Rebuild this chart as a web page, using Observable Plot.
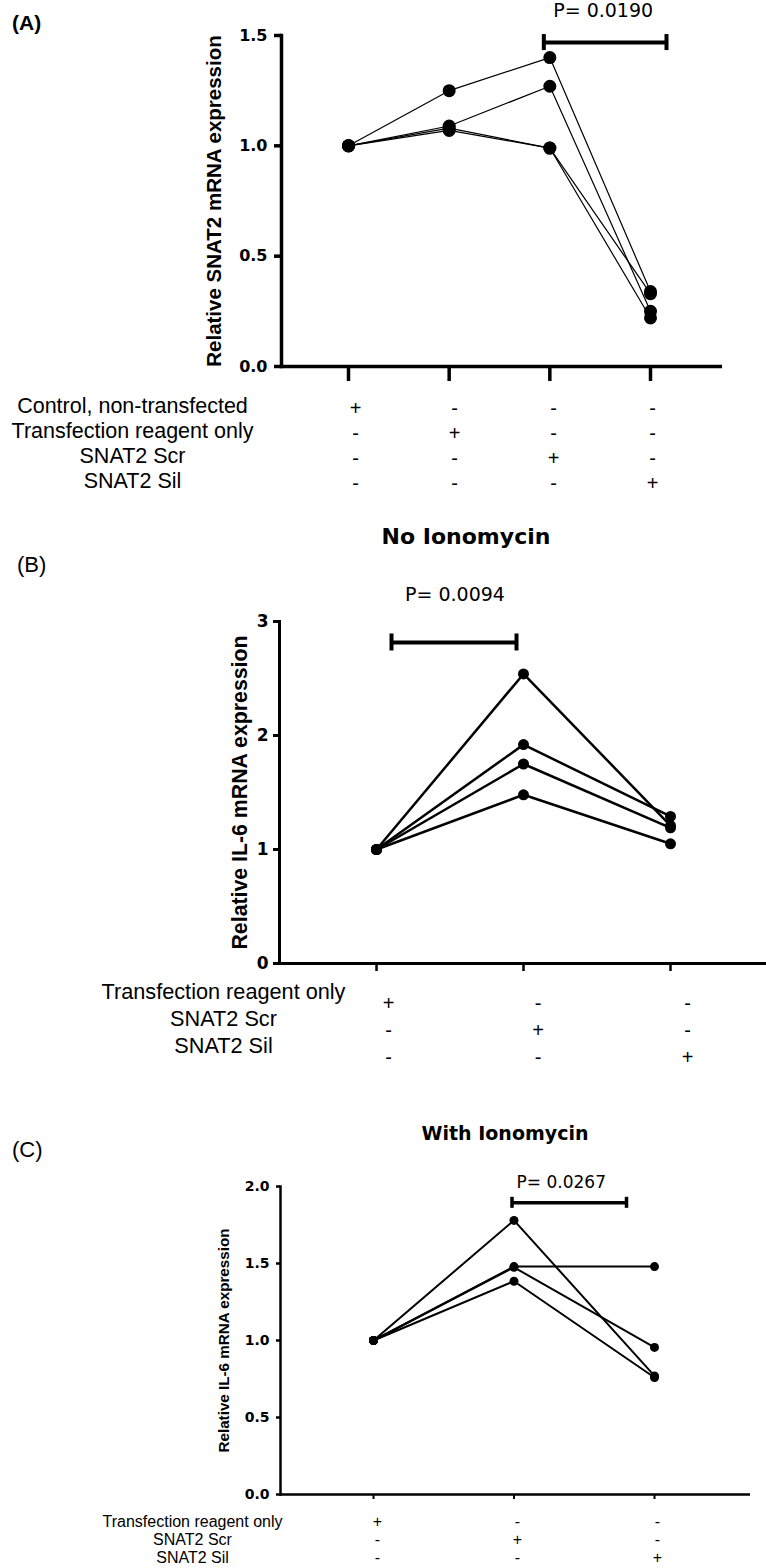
<!DOCTYPE html>
<html>
<head>
<meta charset="utf-8">
<script src="https://cdn.jsdelivr.net/npm/d3@7"></script>
<script src="https://cdn.jsdelivr.net/npm/@observablehq/plot@0.6"></script>
<style>
  html, body { margin: 0; padding: 0; background: #fff; }
  #root { position: relative; width: 766px; height: 1568px; background: #fff; overflow: hidden; color: #000; }
  .abs { position: absolute; line-height: 1; white-space: nowrap; color: #000; z-index: 5; }
  .ctr { transform: translate(-50%, -50%); }
  .vmid { transform: translate(0, -50%); }
</style>
</head>
<body>
<div id="root"></div>
<script>
// ---------------- DATA ----------------
// Panel A : Relative SNAT2 mRNA expression
const groupsA = ["Control, non-transfected", "Transfection reagent only", "SNAT2 Scr", "SNAT2 Sil"];
const seriesA = [
  [1.00, 1.25, 1.40, 0.34],
  [1.00, 1.09, 1.27, 0.25],
  [1.00, 1.08, 0.99, 0.33],
  [1.00, 1.07, 0.99, 0.22]
];
const yTicksA = [0, 0.5, 1.0, 1.5];
const signsA = [
  ["+", "-", "-", "-"],
  ["-", "+", "-", "-"],
  ["-", "-", "+", "-"],
  ["-", "-", "-", "+"]
];
const pValueA = "P= 0.0190";

// Panel B : No Ionomycin, Relative IL-6 mRNA expression
const groupsB = ["Transfection reagent only", "SNAT2 Scr", "SNAT2 Sil"];
const seriesB = [
  [1.00, 2.54, 1.21],
  [1.00, 1.92, 1.29],
  [1.00, 1.75, 1.19],
  [1.00, 1.48, 1.05]
];
const yTicksB = [0, 1, 2, 3];
const signsB = [
  ["+", "-", "-"],
  ["-", "+", "-"],
  ["-", "-", "+"]
];
const pValueB = "P= 0.0094";

// Panel C : With Ionomycin, Relative IL-6 mRNA expression
const groupsC = ["Transfection reagent only", "SNAT2 Scr", "SNAT2 Sil"];
const seriesC = [
  [1.00, 1.78, 0.77],
  [1.00, 1.48, 1.48],
  [1.00, 1.475, 0.955],
  [1.00, 1.385, 0.76]
];
const yTicksC = [0, 0.5, 1.0, 1.5, 2.0];
const signsC = [
  ["+", "-", "-"],
  ["-", "+", "-"],
  ["-", "-", "+"]
];
const pValueC = "P= 0.0267";

// ---------------- HELPERS ----------------
const SANS = "'Liberation Sans', Arial, Helvetica, sans-serif";
const WIDE = "'DejaVu Sans', Verdana, sans-serif";
const root = document.getElementById("root");

function toLong(series) {
  return series.flatMap((vals, s) => vals.map((v, i) => ({s, i, v})));
}

function place(el, top) {
  el.style.position = "absolute";
  el.style.left = "0px";
  el.style.top = top + "px";
  root.appendChild(el);
}

function html(text, cls, x, y, css) {
  const d = document.createElement("div");
  d.className = "abs " + cls;
  d.textContent = text;
  d.style.left = x + "px";
  d.style.top = y + "px";
  Object.assign(d.style, css);
  root.appendChild(d);
}

function chart(cfg) {
  const n = cfg.groups.length;
  const data = toLong(cfg.series);
  const br = cfg.bracket;
  const svg = Plot.plot({
    width: 766,
    height: cfg.height,
    marginLeft: cfg.marginLeft,
    marginRight: cfg.marginRight,
    marginTop: cfg.marginTop,
    marginBottom: cfg.marginBottom,
    style: {background: "transparent", color: "#000", fontFamily: WIDE, overflow: "visible"},
    x: {type: "linear", domain: [0, n - 1], range: cfg.xRange},
    y: {type: "linear", domain: cfg.yDomain},
    marks: [
      Plot.frame({anchor: "left", strokeWidth: cfg.axisWidth, stroke: "#000"}),
      Plot.ruleY([0], {strokeWidth: cfg.axisWidth, stroke: "#000"}),
      Plot.axisY({
        ticks: cfg.yTicks, tickFormat: cfg.yFormat, tickSize: cfg.yTickSize, tickPadding: cfg.yTickPadding,
        fontSize: cfg.yTickFont, fontWeight: "bold", strokeWidth: cfg.axisWidth, label: null
      }),
      Plot.axisX({
        ticks: d3.range(n), tickFormat: () => "", tickSize: cfg.xTickSize,
        strokeWidth: cfg.xTickWidth, label: null
      }),
      Plot.text([cfg.yLabel], {
        frameAnchor: "left", rotate: -90, dx: cfg.yLabelX - cfg.marginLeft,
        textAnchor: "middle", lineAnchor: "middle",
        fontFamily: SANS, fontWeight: "bold", fontSize: cfg.yLabelFont
      }),
      Plot.line(data, {x: "i", y: "v", z: "s", stroke: "#000", strokeWidth: cfg.lineWidth}),
      Plot.dot(data, {x: "i", y: "v", r: cfg.r, fill: "#000", stroke: "none"}),
      // significance bracket
      Plot.ruleY([br], {x1: d => d.from, x2: d => d.to, y: d => d.y,
        insetLeft: br.insetL, insetRight: br.insetR, strokeWidth: br.width, stroke: "#000"}),
      Plot.ruleX([br], {x: d => d.from, y1: d => d.y, y2: d => d.y, dx: br.insetL,
        insetTop: -br.half, insetBottom: -br.half, strokeWidth: br.width, stroke: "#000"}),
      Plot.ruleX([br], {x: d => d.to, y1: d => d.y, y2: d => d.y, dx: -br.insetR,
        insetTop: -br.half, insetBottom: -br.half, strokeWidth: br.width, stroke: "#000"}),
      Plot.text([br], {x: d => (d.from + d.to) / 2, y: d => d.py, text: d => d.label, dx: br.labelDx,
        fontFamily: WIDE, fontSize: br.labelFont, lineAnchor: "middle"})
    ]
  });
  place(svg, cfg.top);
}

function table(cfg) {
  const n = cfg.groups.length;
  const cells = cfg.rows.flatMap((row, r) => cfg.signs[r].map((sg, i) => ({row, i, sg})));
  const svg = Plot.plot({
    width: 766,
    height: cfg.height,
    margin: 0,
    style: {background: "transparent", color: "#000", fontFamily: SANS, overflow: "visible"},
    x: {type: "linear", domain: [0, n - 1], range: cfg.xRange, axis: null},
    y: {type: "point", domain: cfg.rows, range: cfg.yRange, padding: 0, axis: null},
    marks: [
      Plot.text(cells, {x: "i", y: "row", text: "sg", fontSize: cfg.signFont, lineAnchor: "middle"}),
      Plot.text(cfg.rows, {y: d => d, text: d => d, frameAnchor: "left", dx: cfg.labelX, dy: cfg.labelDy,
        textAnchor: "middle", lineAnchor: "middle", fontSize: cfg.labelFont})
    ]
  });
  place(svg, cfg.top);
}

// ---------------- PANEL A ----------------
chart({
  top: 0, height: 390, marginLeft: 281, marginRight: 44, marginTop: 35, marginBottom: 24,
  groups: groupsA, series: seriesA, yDomain: [0, 1.5], yTicks: yTicksA, yFormat: d3.format(".1f"),
  xRange: [348, 650], axisWidth: 3.5, yTickSize: 7, yTickPadding: 7, yTickFont: 16,
  xTickSize: 15, xTickWidth: 3.5,
  yLabel: "Relative SNAT2 mRNA expression", yLabelX: 214, yLabelFont: 20.5,
  lineWidth: 1.2, r: 6.5,
  bracket: {from: 2, to: 3, y: 1.468, py: 1.61, label: pValueA, insetL: -6, insetR: -16,
    half: 8, width: 4, labelDx: 3, labelFont: 19}
});
table({
  top: 390, height: 110, groups: groupsA, rows: groupsA, signs: signsA,
  xRange: [355, 652], yRange: [17, 94], signFont: 20, labelX: 132, labelDy: -2, labelFont: 21.5
});
html("(A)", "vmid", 12, 22, {fontFamily: SANS, fontWeight: "bold", fontSize: "21px"});

// ---------------- PANEL B ----------------
chart({
  top: 575, height: 410, marginLeft: 279, marginRight: 0, marginTop: 46, marginBottom: 22,
  groups: groupsB, series: seriesB, yDomain: [0, 3], yTicks: yTicksB, yFormat: d3.format("d"),
  xRange: [376, 670], axisWidth: 3, yTickSize: 6, yTickPadding: 5, yTickFont: 17,
  xTickSize: 8, xTickWidth: 2.5,
  yLabel: "Relative IL-6 mRNA expression", yLabelX: 240, yLabelFont: 21.3,
  lineWidth: 2.5, r: 5.5,
  bracket: {from: 0, to: 1, y: 2.816, py: 3.23, label: pValueB, insetL: 15, insetR: 7,
    half: 8.5, width: 4, labelDx: 5, labelFont: 19}
});
table({
  top: 975, height: 100, groups: groupsB, rows: groupsB, signs: signsB,
  xRange: [388, 687], yRange: [28, 82], signFont: 20, labelX: 223, labelDy: -11, labelFont: 21.7
});
html("No Ionomycin", "ctr", 466, 537, {fontFamily: WIDE, fontWeight: "bold", fontSize: "22px"});
html("(B)", "vmid", 17, 565, {fontFamily: SANS, fontSize: "22px"});

// ---------------- PANEL C ----------------
chart({
  top: 1165, height: 345, marginLeft: 280, marginRight: 16, marginTop: 21, marginBottom: 16,
  groups: groupsC, series: seriesC, yDomain: [0, 2], yTicks: yTicksC, yFormat: d3.format(".1f"),
  xRange: [373, 654], axisWidth: 2.5, yTickSize: 4, yTickPadding: 7, yTickFont: 14,
  xTickSize: 5, xTickWidth: 2,
  yLabel: "Relative IL-6 mRNA expression", yLabelX: 224, yLabelFont: 15.2,
  lineWidth: 2, r: 4.5,
  bracket: {from: 1, to: 2, y: 1.894, py: 2.023, label: pValueC, insetL: -2, insetR: 28,
    half: 5.5, width: 3.5, labelDx: -23, labelFont: 17}
});
table({
  top: 1502, height: 64, groups: groupsC, rows: groupsC, signs: signsC,
  xRange: [377, 657], yRange: [18, 55], signFont: 16, labelX: 192, labelDy: 0, labelFont: 16
});
html("With Ionomycin", "ctr", 505, 1133, {fontFamily: WIDE, fontWeight: "bold", fontSize: "19px"});
html("(C)", "vmid", 12, 1150, {fontFamily: SANS, fontSize: "22px"});
</script>
</body>
</html>
